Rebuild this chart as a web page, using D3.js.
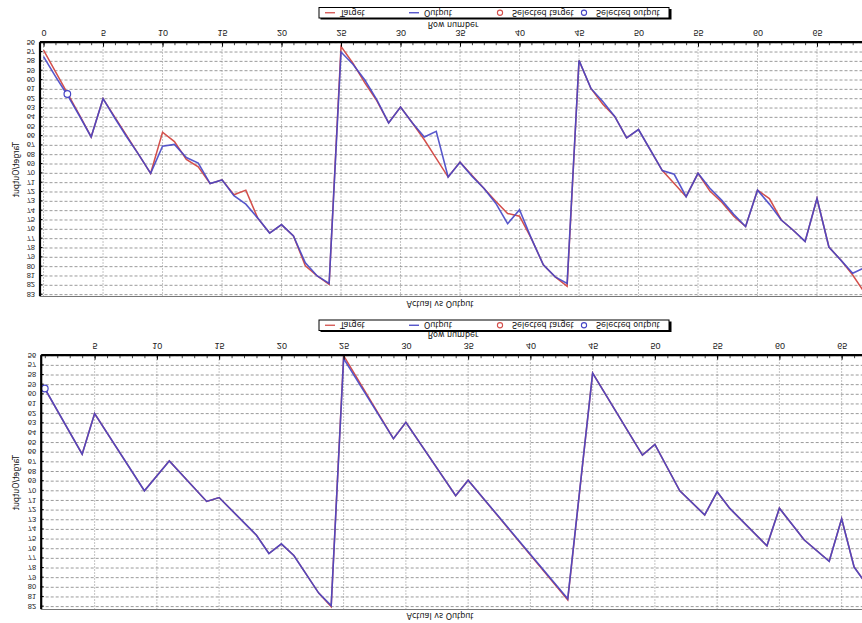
<!DOCTYPE html>
<html>
<head>
<meta charset="utf-8">
<script src="https://cdn.jsdelivr.net/npm/d3@7"></script>
<style>
  body { margin: 0; background: #fff; }
  svg { display: block; font-family: "DejaVu Sans", sans-serif; }
</style>
</head>
<body>
<div id="chart"></div>
<script>
// upper chart of the reference (after flipping it is the lower one)
const rowsA = [0,1,2,3,4,5,6,7,8,9,10,11,12,13,14,15,16,17,18,19,20,21,22,23,24,25,26,27,28,29,30,31,32,33,34,
  35,36,37,38,39,40,41,42,43,44,45,46,47,48,49,50,51,52,53,54,55,56,57,58,59,60,61,62,63,64,65,66,67,68,69];
const targetA = [56.8,59.1,61.4,63.7,66.1,62.0,64.0,66.0,68.0,70.0,65.6,66.6,68.5,69.3,71.1,70.7,72.3,71.8,74.8,76.4,
  75.5,76.7,79.9,81.0,81.9,56.4,58.2,60.3,62.2,64.6,62.9,64.6,66.4,68.4,70.4,68.8,70.2,71.6,73.0,74.3,
  74.6,77.0,79.8,81.1,82.1,57.9,60.9,62.6,63.9,66.2,65.3,67.5,69.7,71.1,72.5,70.0,71.9,73.1,74.6,75.7,
  71.8,72.7,75.0,76.1,77.3,72.7,77.9,79.3,80.9,82.8];
const outputA = [57.5,59.6,61.6,63.8,66.1,62.0,64.1,66.1,68.0,70.0,67.1,66.9,68.3,68.9,71.1,70.7,72.4,73.3,74.8,76.4,
  75.5,76.7,79.6,81.0,81.8,57.0,58.3,60.0,62.1,64.6,62.9,64.6,66.1,65.5,70.4,68.8,70.3,71.6,73.2,75.4,
  73.9,77.0,79.8,81.1,81.8,57.9,60.9,62.3,63.9,66.2,65.3,67.5,69.7,70.1,72.5,70.0,71.6,72.9,74.4,75.7,
  71.8,73.3,75.0,76.1,77.3,72.7,77.9,79.3,80.7,80.1];
const selRowA = [2];
const selValueA = [61.5];

// lower chart of the reference
const rowsB = [1,4,5,9,11,14,15,18,19,20,21,23,24,25,29,30,34,35,43,45,49,50,52,54,55,56,59,60,62,64,65,66,67];
const targetB = [59.4,66.2,62.0,70.0,66.9,71.1,70.7,74.6,76.5,75.5,76.7,80.6,82.0,56.0,64.6,62.9,70.5,68.9,81.3,57.8,
  66.3,65.2,70.0,72.5,70.1,71.8,75.7,71.8,75.1,77.3,72.9,77.9,79.7];
const outputB = [59.4,66.2,62.0,70.0,66.9,71.1,70.7,74.6,76.5,75.5,76.7,80.6,81.9,56.3,64.6,62.9,70.5,68.9,81.2,57.8,
  66.3,65.2,70.0,72.5,70.1,71.8,75.7,71.8,75.1,77.3,72.9,77.9,79.7];
const selRowB = [1];
const selValueB = [59.4];

const xTicks = [0,5,10,15,20,25,30,35,40,45,50,55,60,65];
const minorRows = d3.range(0, 70);
const yTicksA = [56,57,58,59,60,61,62,63,64,65,66,67,68,69,70,71,72,73,74,75,76,77,78,79,80,81,82,83];
const yTicksB = [56,57,58,59,60,61,62,63,64,65,66,67,68,69,70,71,72,73,74,75,76,77,78,79,80,81,82];
const legendLabels = ["Target", "Output", "Selected target", "Selected output"];

const W = 862, H = 623;
const red = "#d4504c", blue = "#4646c6";

const svg = d3.select("#chart").append("svg").attr("width", W).attr("height", H);
// the reference is upside down: draw the charts normally, then flip everything
const root = svg.append("g").attr("transform", `translate(0,${H}) scale(1,-1)`);

function drawPanel(p) {
  const g = root.append("g");
  const x = d3.scaleLinear().domain(p.xDomain).range([p.left, p.right]);
  const y = d3.scaleLinear().domain(p.yDomain).range([p.bottom, p.top]);
  const mid = (p.top + p.bottom) / 2;

  g.append("clipPath").attr("id", "clip" + p.id).append("rect")
    .attr("x", p.left).attr("y", p.top - 2)
    .attr("width", p.right - p.left).attr("height", p.bottom - p.top + 2);

  // grid
  g.append("g").selectAll("line").data(p.yTicks).join("line")
    .attr("x1", p.left).attr("x2", p.right)
    .attr("y1", d => y(d)).attr("y2", d => y(d))
    .attr("stroke", "#8e8e8e").attr("stroke-width", 0.9).attr("stroke-dasharray", "3,2");
  const xt = xTicks.filter(d => d >= p.xDomain[0] && d <= p.xDomain[1]);
  g.append("g").selectAll("line").data(xt).join("line")
    .attr("x1", d => x(d)).attr("x2", d => x(d))
    .attr("y1", p.top).attr("y2", p.bottom)
    .attr("stroke", "#7a7a7a").attr("stroke-width", 0.9).attr("stroke-dasharray", "1,2");
  g.append("line")
    .attr("x1", p.left).attr("x2", p.right).attr("y1", p.top).attr("y2", p.top)
    .attr("stroke", "#777");

  // series
  const line = d3.line().x(d => x(d[0])).y(d => y(d[1]));
  g.append("path").datum(d3.zip(p.rows, p.target))
    .attr("d", line).attr("fill", "none")
    .attr("stroke", red).attr("stroke-width", 1.5)
    .attr("clip-path", `url(#clip${p.id})`);
  g.append("path").datum(d3.zip(p.rows, p.output))
    .attr("d", line).attr("fill", "none")
    .attr("stroke", blue).attr("stroke-width", 1.6).attr("stroke-opacity", 0.9)
    .attr("clip-path", `url(#clip${p.id})`);

  g.append("g").selectAll("circle").data(d3.zip(p.selRow, p.selValue)).join("circle")
    .attr("cx", d => x(d[0])).attr("cy", d => y(d[1])).attr("r", 3.3)
    .attr("fill", "#fff").attr("stroke", blue).attr("stroke-width", 1.2);

  // axes
  const minor = g.append("g").attr("transform", `translate(0,${p.bottom})`)
    .call(d3.axisBottom(x).tickValues(minorRows.filter(d => d >= p.xDomain[0] && d <= p.xDomain[1]))
      .tickSize(-2.5).tickFormat(""));
  minor.select(".domain").remove();
  minor.selectAll("line").attr("stroke", "#444");

  const xAxis = g.append("g").attr("transform", `translate(0,${p.bottom})`)
    .call(d3.axisBottom(x).tickValues(xt).tickSizeInner(-4).tickSizeOuter(0).tickPadding(6.5));
  xAxis.select(".domain").attr("stroke-width", 2.2);
  xAxis.selectAll("text").attr("font-size", 9).attr("fill", "#222").attr("font-family", null);

  const yAxis = g.append("g").attr("transform", `translate(${p.left},0)`)
    .call(d3.axisLeft(y).tickValues(p.yTicks).tickSizeInner(-3).tickSizeOuter(0).tickPadding(4.5));
  yAxis.select(".domain").attr("stroke-width", 2.2);
  yAxis.selectAll("text").attr("font-size", 7.5).attr("fill", "#222").attr("font-family", null);

  // titles
  g.append("text").attr("x", 440).attr("y", p.titleY)
    .attr("text-anchor", "middle").attr("font-size", 8).attr("fill", "#111")
    .text("Actual vs Output");
  g.append("text").attr("x", 453).attr("y", p.xTitleY)
    .attr("text-anchor", "middle").attr("font-size", 8).attr("fill", "#111")
    .text("Row number");
  g.append("text").attr("transform", `translate(18.5,${mid}) rotate(-90)`)
    .attr("text-anchor", "middle").attr("font-size", 8).attr("fill", "#111")
    .text("Target/Output");

  // legend
  const lg = g.append("g").attr("transform", `translate(319,${p.legendY})`);
  lg.append("rect").attr("x", 1.5).attr("y", -1.5).attr("width", 351).attr("height", 10.5)
    .attr("fill", "#000");
  lg.append("rect").attr("width", 350).attr("height", 10.5)
    .attr("fill", "#fff").attr("stroke", "#000").attr("stroke-width", 1);
  const itemX = [6, 90, 178, 262];
  const kinds = ["line", "line", "dot", "dot"];
  const colors = [red, blue, red, blue];
  legendLabels.forEach((lab, i) => {
    if (kinds[i] === "line") {
      lg.append("line").attr("x1", itemX[i]).attr("x2", itemX[i] + 10)
        .attr("y1", 5.25).attr("y2", 5.25).attr("stroke", colors[i]).attr("stroke-width", 1.3);
    } else {
      lg.append("circle").attr("cx", itemX[i] + 3).attr("cy", 5.25).attr("r", 2.6)
        .attr("fill", "none").attr("stroke", colors[i]).attr("stroke-width", 1.1);
    }
    lg.append("text").attr("x", itemX[i] + 15).attr("y", 8.2)
      .attr("font-size", 8).attr("fill", "#111").text(lab);
  });
}

drawPanel({
  id: "A", rows: rowsA, target: targetA, output: outputA, selRow: selRowA, selValue: selValueA,
  xDomain: [-0.34, 70], left: 39.5, right: 876.5,
  yDomain: [56, 83.2], bottom: 580.3, top: 326.5, yTicks: yTicksA,
  titleY: 322, xTitleY: 601.3, legendY: 605
});
drawPanel({
  id: "B", rows: rowsB, target: targetB, output: outputB, selRow: selRowB, selValue: selValueB,
  xDomain: [0.67, 68], left: 40.7, right: 879,
  yDomain: [56, 82.3], bottom: 267.3, top: 13.5, yTicks: yTicksB,
  titleY: 10, xTitleY: 291.5, legendY: 292.5
});
</script>
</body>
</html>
